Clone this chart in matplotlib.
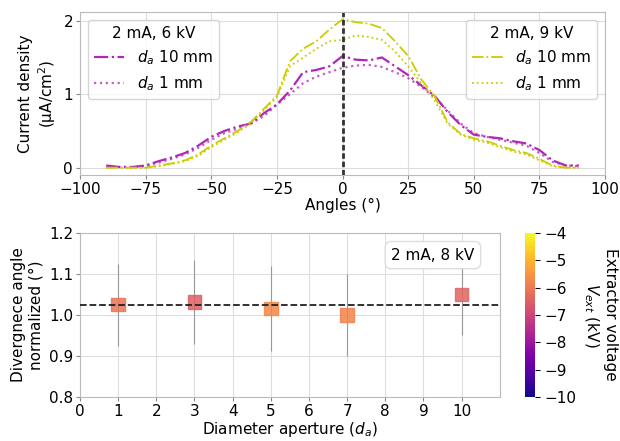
import numpy as np
import matplotlib.pyplot as plt

# ------------------------------------------
# Datos
# ------------------------------------------

angles = [-90, -85, -80, -75, -70, -65, -60, -55, -50, -45, -40, -35, -30, -25, -20,
          -15, -10, -5, 0, 5, 10, 15, 20, 25, 30, 35, 40, 45, 50, 55, 60, 65, 70,
          75, 80, 85, 90]

# 2 mA, 6 kV
j6_10mm = [0.03, 0.01, 0.01, 0.03, 0.09, 0.14, 0.20, 0.30, 0.42, 0.50, 0.56, 0.60, 0.74,
           0.86, 1.05, 1.30, 1.33, 1.38, 1.52, 1.47, 1.46, 1.50, 1.38, 1.26, 1.12, 0.98,
           0.76, 0.58, 0.45, 0.42, 0.40, 0.36, 0.33, 0.24, 0.10, 0.03, 0.03]
j6_1mm = [0.02, 0.01, 0.01, 0.02, 0.07, 0.12, 0.18, 0.27, 0.38, 0.47, 0.53, 0.60, 0.70,
          0.86, 1.00, 1.15, 1.24, 1.30, 1.36, 1.39, 1.40, 1.37, 1.30, 1.22, 1.10, 0.96,
          0.78, 0.60, 0.47, 0.42, 0.38, 0.34, 0.30, 0.20, 0.08, 0.03, 0.02]

# 2 mA, 9 kV
j9_10mm = [0.0, 0.0, 0.0, 0.0, 0.03, 0.06, 0.10, 0.18, 0.30, 0.40, 0.50, 0.62, 0.80,
           0.98, 1.45, 1.62, 1.72, 1.88, 2.02, 1.98, 1.96, 1.90, 1.72, 1.52, 1.20, 0.98,
           0.62, 0.46, 0.40, 0.36, 0.30, 0.24, 0.20, 0.12, 0.03, 0.0, 0.0]
j9_1mm = [0.0, 0.0, 0.0, 0.0, 0.02, 0.05, 0.09, 0.16, 0.28, 0.38, 0.48, 0.60, 0.78,
          0.96, 1.38, 1.50, 1.62, 1.72, 1.74, 1.80, 1.78, 1.74, 1.58, 1.38, 1.15, 0.92,
          0.60, 0.45, 0.38, 0.34, 0.28, 0.22, 0.18, 0.10, 0.02, 0.0, 0.0]

# Divergencia normalizada, 2 mA, 8 kV
apertures = [1, 3, 5, 7, 10]
divergence = [1.025, 1.032, 1.015, 1.000, 1.050]
div_err = [0.100, 0.102, 0.104, 0.100, 0.100]
v_ext = [-6.1, -6.5, -5.7, -5.8, -6.4]
div_mean = 1.024

col6 = '#b028b8'
col9 = '#cccc00'

# ------------------------------------------
# Figura
# ------------------------------------------

plt.rcParams['font.size'] = 11
fig = plt.figure(figsize=(6.2, 4.41), dpi=100)

ax1 = fig.add_axes([0.129, 0.603, 0.847, 0.370])
ax2 = fig.add_axes([0.129, 0.100, 0.677, 0.372])
cax = fig.add_axes([0.847, 0.100, 0.016, 0.372])

for ax in (ax1, ax2):
    ax.grid(True, color='#dddddd', lw=0.8)
    ax.set_axisbelow(True)
    for s in ax.spines.values():
        s.set_color('#bbbbbb')
    ax.tick_params(color='#888888', length=3, pad=2)

# --- panel superior ---
l1, = ax1.plot(angles, j6_10mm, color=col6, ls='-.', lw=1.6)
l2, = ax1.plot(angles, j6_1mm, color=col6, ls=':', lw=1.6, alpha=0.75)
l3, = ax1.plot(angles, j9_10mm, color=col9, ls='-.', lw=1.3)
l4, = ax1.plot(angles, j9_1mm, color=col9, ls=':', lw=1.3)
ax1.axvline(0, color='#333333', ls=(0, (2, 1)), lw=2)

ax1.set_xlim(-100, 100)
ax1.set_ylim(-0.1, 2.12)
ax1.set_yticks([0, 1, 2])
ax1.set_xlabel('Angles (°)', labelpad=1)
ax1.set_ylabel('Current density\n(µA/cm$^2$)')

leg1 = ax1.legend([l1, l2], ['$d_a$ 10 mm', '$d_a$ 1 mm'], title='2 mA, 6 kV',
                  loc='upper left', fontsize=11, title_fontsize=11)
ax1.add_artist(leg1)
ax1.legend([l3, l4], ['$d_a$ 10 mm', '$d_a$ 1 mm'], title='2 mA, 9 kV',
           loc='upper right', fontsize=11, title_fontsize=11)

# --- panel inferior ---
ax2.errorbar(apertures, divergence, yerr=div_err, fmt='none', ecolor='#888888',
             elinewidth=0.8, alpha=0.8)
sc = ax2.scatter(apertures, divergence, c=v_ext, cmap='plasma', vmin=-10, vmax=-4,
                 marker='s', s=95, alpha=0.85, zorder=3)
ax2.axhline(div_mean, color='#222222', ls='--', lw=1.3, zorder=4)

ax2.set_xlim(0, 11)
ax2.set_xticks(range(0, 11))
ax2.set_ylim(0.8, 1.2)
ax2.set_yticks([0.8, 0.9, 1.0, 1.1, 1.2])
ax2.set_xlabel('Diameter aperture ($d_a$)', labelpad=1)
ax2.set_ylabel('Divergnece angle\nnormalized (°)')
ax2.text(0.94, 0.91, '2 mA, 8 kV', transform=ax2.transAxes, ha='right', va='top',
         bbox=dict(boxstyle='round,pad=0.4', fc='white', ec='#dddddd'))

cb = fig.colorbar(sc, cax=cax)
cb.solids.set_alpha(1)
cb.set_ticks([-4, -5, -6, -7, -8, -9, -10])
cb.outline.set_visible(False)
cb.set_label('Extractor voltage\n$V_{ext}$ (kV)', rotation=270, labelpad=30)

plt.savefig('out.png', dpi=100)
